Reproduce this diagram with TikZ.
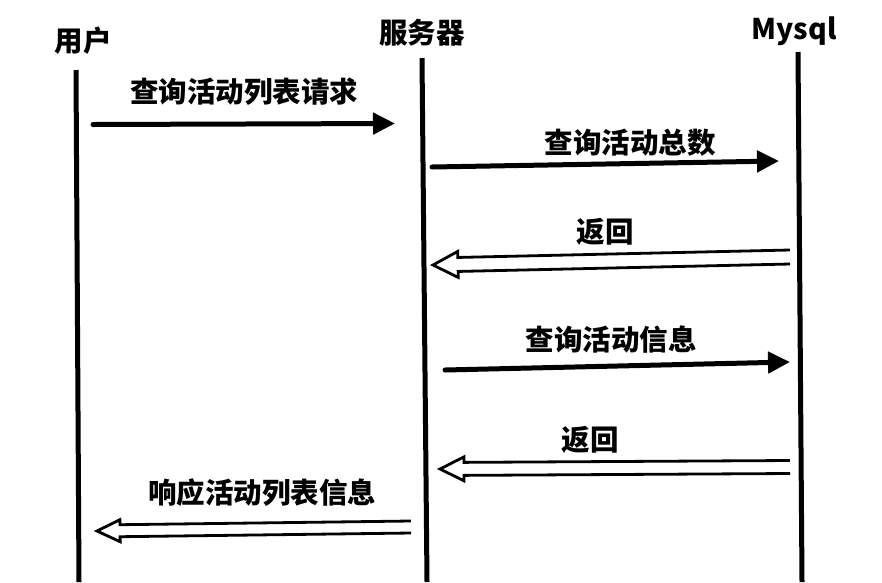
\documentclass[tikz,border=0pt]{standalone}
\usepackage{fontspec}
\newfontfamily\cjk{Noto Sans CJK SC}
\usetikzlibrary{arrows.meta,calc}
\newcommand\hollowarr[5]{% #1 start, #2 tip, #3 half shaft, #4 half head, #5 head length
  \coordinate (hb) at ($(#2)!#5!(#1)$);
  \draw[hollow] ($(#1)!#3!90:(#2)$) -- ($(hb)!#3!90:(#2)$) -- ($(hb)!#4!90:(#2)$) -- (#2)
     -- ($(hb)!#4!-90:(#2)$) -- ($(hb)!#3!-90:(#2)$) -- ($(#1)!#3!-90:(#2)$);
}
\begin{document}
\begin{tikzpicture}[x=1pt,y=-1pt,
  lifeline/.style={line width=5pt},
  msg/.style={line width=5pt, line cap=round, -{Triangle[length=22pt,width=21pt]}},
  lbl/.style={font=\cjk\bfseries\fontsize{28.5}{32}\selectfont, inner sep=0pt},
  hollow/.style={line width=2.8pt, line join=miter}]
\useasboundingbox (0,0) rectangle (882,582);
\fill[white] (0,0) rectangle (882,582);
% headers
\node[lbl] (hu) at (83,41) {用户};
\node[lbl] (hs) at (422,33) {服务器};
\node[lbl] (hm) at (794,31) {Mysql};
% lifelines
\coordinate (u1) at (76,70);  \coordinate (u2) at (79,582);
\coordinate (s1) at (422,58); \coordinate (s2) at (427,582);
\coordinate (m1) at (798,52); \coordinate (m2) at (802,582);
\draw[lifeline] (u1) -- (u2);
\draw[lifeline] (s1) -- (s2);
\draw[lifeline] (m1) -- (m2);
% message 1
\coordinate (a1s) at (93,124.5); \coordinate (a1e) at (395,123.5);
\draw[msg] (a1s) -- (a1e);
\node[lbl] (l1) at (244,92) {查询活动列表请求};
% message 2
\coordinate (a2s) at (432,167); \coordinate (a2e) at (779,161);
\draw[msg] (a2s) -- (a2e);
\node[lbl] (l2) at (630,143) {查询活动总数};
% message 3
\coordinate (a3s) at (790,257); \coordinate (a3e) at (433,265);
\hollowarr{a3s}{a3e}{7pt}{13pt}{25pt}
\node[lbl] (l3) at (605,232) {返回};
% message 4
\coordinate (a4s) at (445,370); \coordinate (a4e) at (790,362);
\draw[msg] (a4s) -- (a4e);
\node[lbl] (l4) at (611,340) {查询活动信息};
% message 5
\coordinate (a5s) at (790,467); \coordinate (a5e) at (440,469);
\hollowarr{a5s}{a5e}{6.5pt}{12pt}{24pt}
\node[lbl] (l5) at (590,440) {返回};
% message 6
\coordinate (a6s) at (411,527); \coordinate (a6e) at (97,531);
\hollowarr{a6s}{a6e}{6pt}{11pt}{23pt}
\node[lbl] (l6) at (262,493) {响应活动列表信息};
\end{tikzpicture}
\end{document}
